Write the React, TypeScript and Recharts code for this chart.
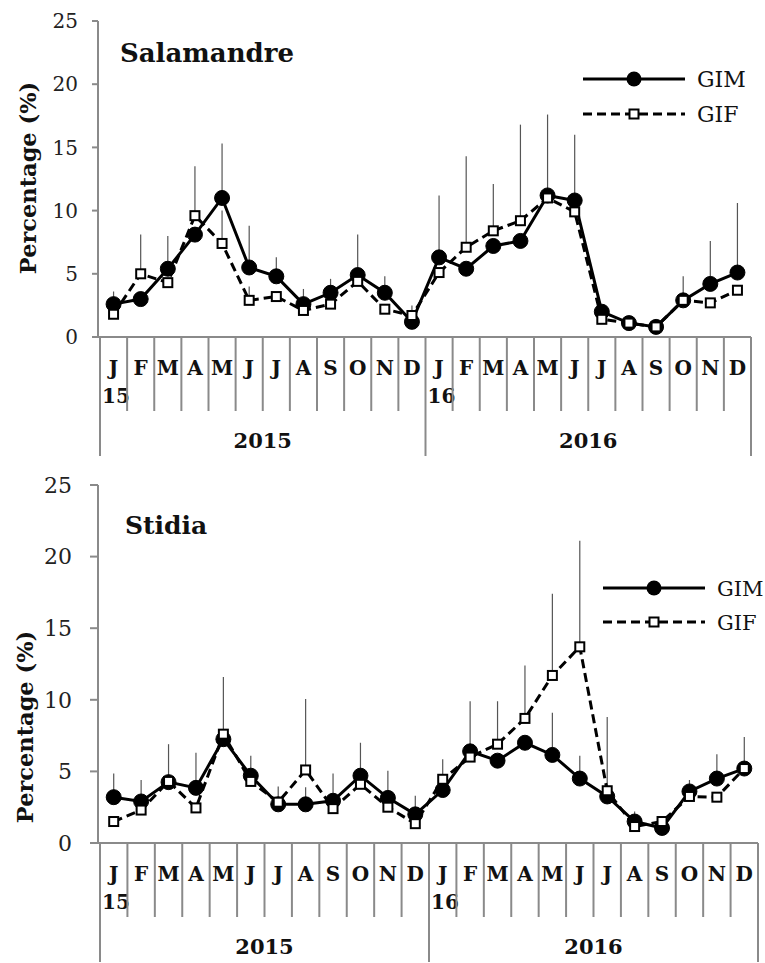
import { LineChart, Line, XAxis, YAxis, ErrorBar } from "recharts";

const months = ["J", "F", "M", "A", "M", "J", "J", "A", "S", "O", "N", "D", "J", "F", "M", "A", "M", "J", "J", "A", "S", "O", "N", "D"];
const yearTags = ["15", "", "", "", "", "", "", "", "", "", "", "", "16", "", "", "", "", "", "", "", "", "", "", ""];
const years = ["2015", "2016"];
const yTicks = [0, 5, 10, 15, 20, 25];

// Salamandre
const salGIM = [2.6, 3.0, 5.4, 8.1, 11.0, 5.5, 4.8, 2.6, 3.5, 4.9, 3.5, 1.2, 6.3, 5.4, 7.2, 7.6, 11.2, 10.8, 2.0, 1.1, 0.8, 2.9, 4.2, 5.1];
const salGIF = [1.8, 5.0, 4.3, 9.6, 7.4, 2.9, 3.2, 2.1, 2.6, 4.4, 2.2, 1.7, 5.1, 7.1, 8.4, 9.2, 11.0, 9.9, 1.4, 1.1, 0.8, 2.9, 2.7, 3.7];
const salGIMTop = [3.6, null, 8.0, null, 15.3, 8.8, 6.3, 3.8, 4.6, 8.1, 4.8, null, 11.2, null, null, null, 17.6, 16.0, null, null, null, 4.8, 7.6, 10.6];
const salGIFTop = [null, 8.1, null, 13.5, 10.0, 4.0, null, null, null, null, null, 2.5, null, 14.3, 12.1, 16.8, null, null, null, null, null, null, null, null];

// Stidia
const stiGIM = [3.2, 2.9, 4.25, 3.85, 7.25, 4.7, 2.7, 2.7, 2.95, 4.7, 3.15, 2.0, 3.7, 6.4, 5.75, 7.0, 6.15, 4.5, 3.25, 1.5, 1.05, 3.6, 4.5, 5.2];
const stiGIF = [1.5, 2.3, 4.3, 2.45, 7.6, 4.3, 2.85, 5.1, 2.4, 4.1, 2.5, 1.35, 4.45, 6.0, 6.9, 8.7, 11.7, 13.7, 3.65, 1.15, 1.5, 3.25, 3.2, 5.2];
const stiGIMTop = [4.85, 4.4, null, 6.3, null, 6.1, null, 3.9, 4.85, 7.0, 5.05, 3.3, null, 9.9, null, null, 9.1, 6.1, null, 2.2, null, 4.4, 6.2, 7.4];
const stiGIFTop = [null, null, 6.9, null, 11.6, null, 3.95, 10.05, null, null, null, null, 5.85, null, 9.9, 12.4, 17.4, 21.1, 8.8, null, null, null, null, null];

const AXIS = "#8a8a8a";
const FONT = "DejaVu Serif, Liberation Serif, serif";

type Top = (number | null)[];

function buildRows(gim: number[], gif: number[], gimTop: Top, gifTop: Top) {
  return months.map((m, i) => ({
    month: m,
    gim: gim[i],
    gif: gif[i],
    gimErr: [0, gimTop[i] == null ? 0 : (gimTop[i] as number) - gim[i]],
    gifErr: [0, gifTop[i] == null ? 0 : (gifTop[i] as number) - gif[i]],
  }));
}

const salData = buildRows(salGIM, salGIF, salGIMTop, salGIFTop);
const stiData = buildRows(stiGIM, stiGIF, stiGIMTop, stiGIFTop);

function SquareDot(props: any) {
  const { cx, cy, index } = props;
  if (cx == null || cy == null) return null;
  return <rect key={`sq-${index}`} x={cx - 4.5} y={cy - 4.5} width={9} height={9} fill="#fff" stroke="#000" strokeWidth={2} />;
}

function MonthTick(props: any) {
  const { x, y, index, bw } = props;
  const left = x - bw / 2;
  const bold = { fontWeight: 700, fontSize: 20, fill: "#111" };
  return (
    <g>
      <line x1={left} x2={left} y1={y} y2={y + (index % 12 === 0 ? 119 : 74)} stroke={AXIS} strokeWidth={2} />
      {index === months.length - 1 && (
        <line x1={x + bw / 2} x2={x + bw / 2} y1={y} y2={y + 119} stroke={AXIS} strokeWidth={2} />
      )}
      <text x={x} y={y + 38} textAnchor="middle" fontFamily={FONT} style={bold}>{months[index]}</text>
      {yearTags[index] && (
        <text x={left + 2} y={y + 66} fontFamily={FONT} style={bold}>{yearTags[index]}</text>
      )}
      {index % 12 === 6 && (
        <text x={left} y={y + 111} textAnchor="middle" fontFamily={FONT} style={{ ...bold, fontSize: 21 }}>{years[Math.floor(index / 12)]}</text>
      )}
    </g>
  );
}

type PanelProps = {
  title: string;
  data: ReturnType<typeof buildRows>;
  height: number;
  marginTop: number;
  marginRight: number;
  xAxisHeight: number;
  bw: number;
  yFont: number;
  yTickSize: number;
  yTickMargin: number;
  yLabelX: number;
  yLabelY: number;
  titleX: number;
  titleY: number;
  titleSize: number;
  legendX1: number;
  legendY1: number;
  legendY2: number;
  legendFont: number;
};

function Panel(p: PanelProps) {
  const lx2 = p.legendX1 + 102;
  const mid = p.legendX1 + 51;
  return (
    <div style={{ position: "relative", width: 765, height: p.height, fontFamily: FONT }}>
      <LineChart
        width={765}
        height={p.height}
        data={p.data}
        margin={{ top: p.marginTop, right: p.marginRight, bottom: 0, left: 0 }}
      >
        <XAxis
          dataKey="month"
          interval={0}
          height={p.xAxisHeight}
          padding={{ left: 2 + p.bw / 2, right: p.bw / 2 }}
          axisLine={{ stroke: AXIS, strokeWidth: 2 }}
          tickLine={false}
          tickSize={0}
          tickMargin={0}
          tick={(t: any) => <MonthTick {...t} bw={p.bw} />}
        />
        <YAxis
          domain={[0, 25]}
          ticks={yTicks}
          width={98}
          axisLine={{ stroke: AXIS, strokeWidth: 2 }}
          tickLine={{ stroke: AXIS, strokeWidth: 2 }}
          tickSize={p.yTickSize}
          tickMargin={p.yTickMargin}
          tick={{ fontFamily: FONT, fontSize: p.yFont, fill: "#222" }}
        />
        <Line
          dataKey="gim"
          stroke="#000"
          strokeWidth={3}
          dot={{ r: 7.5, fill: "#000", stroke: "#000", strokeWidth: 1 }}
          isAnimationActive={false}
        >
          <ErrorBar dataKey="gimErr" width={0} stroke="#555" strokeWidth={1.2} />
        </Line>
        <Line
          dataKey="gif"
          stroke="#000"
          strokeWidth={3}
          strokeDasharray="9 5"
          dot={<SquareDot />}
          isAnimationActive={false}
        >
          <ErrorBar dataKey="gifErr" width={0} stroke="#555" strokeWidth={1.2} />
        </Line>
      </LineChart>
      <svg
        width={765}
        height={p.height}
        style={{ position: "absolute", left: 0, top: 0, pointerEvents: "none" }}
      >
        <text
          x={p.titleX}
          y={p.titleY}
          fontFamily={FONT}
          style={{ fontWeight: 700, fontSize: p.titleSize, fill: "#111" }}
        >
          {p.title}
        </text>
        <text
          x={p.yLabelX}
          y={p.yLabelY}
          textAnchor="middle"
          dominantBaseline="middle"
          transform={`rotate(-90 ${p.yLabelX} ${p.yLabelY})`}
          fontFamily={FONT}
          style={{ fontWeight: 700, fontSize: 22.5, fill: "#111" }}
        >
          Percentage (%)
        </text>
        <line x1={p.legendX1} x2={lx2} y1={p.legendY1} y2={p.legendY1} stroke="#000" strokeWidth={3} />
        <circle cx={mid} cy={p.legendY1} r={7.5} fill="#000" />
        <text x={lx2 + 12} y={p.legendY1 + 8} fontFamily={FONT} style={{ fontSize: p.legendFont, fill: "#111" }}>GIM</text>
        <line x1={p.legendX1} x2={lx2} y1={p.legendY2} y2={p.legendY2} stroke="#000" strokeWidth={3} strokeDasharray="9 5" />
        <rect x={mid - 4.5} y={p.legendY2 - 4.5} width={9} height={9} fill="#fff" stroke="#000" strokeWidth={2} />
        <text x={lx2 + 12} y={p.legendY2 + 8} fontFamily={FONT} style={{ fontSize: p.legendFont, fill: "#111" }}>GIF</text>
      </svg>
    </div>
  );
}

export default function App() {
  return (
    <div style={{ position: "absolute", left: 0, top: 0, width: 765, height: 963, background: "#fff", overflow: "hidden" }}>
      <Panel
        title="Salamandre"
        data={salData}
        height={470}
        marginTop={21}
        marginRight={14}
        xAxisHeight={133}
        bw={27.125}
        yFont={20}
        yTickSize={6}
        yTickMargin={14}
        yLabelX={30}
        yLabelY={178}
        titleX={120}
        titleY={62}
        titleSize={26}
        legendX1={583}
        legendY1={79}
        legendY2={114}
        legendFont={22}
      />
      <Panel
        title="Stidia"
        data={stiData}
        height={493}
        marginTop={15}
        marginRight={7}
        xAxisHeight={120}
        bw={27.42}
        yFont={22}
        yTickSize={8}
        yTickMargin={18}
        yLabelX={27}
        yLabelY={257}
        titleX={125}
        titleY={64}
        titleSize={25}
        legendX1={603}
        legendY1={118}
        legendY2={152}
        legendFont={21}
      />
    </div>
  );
}
